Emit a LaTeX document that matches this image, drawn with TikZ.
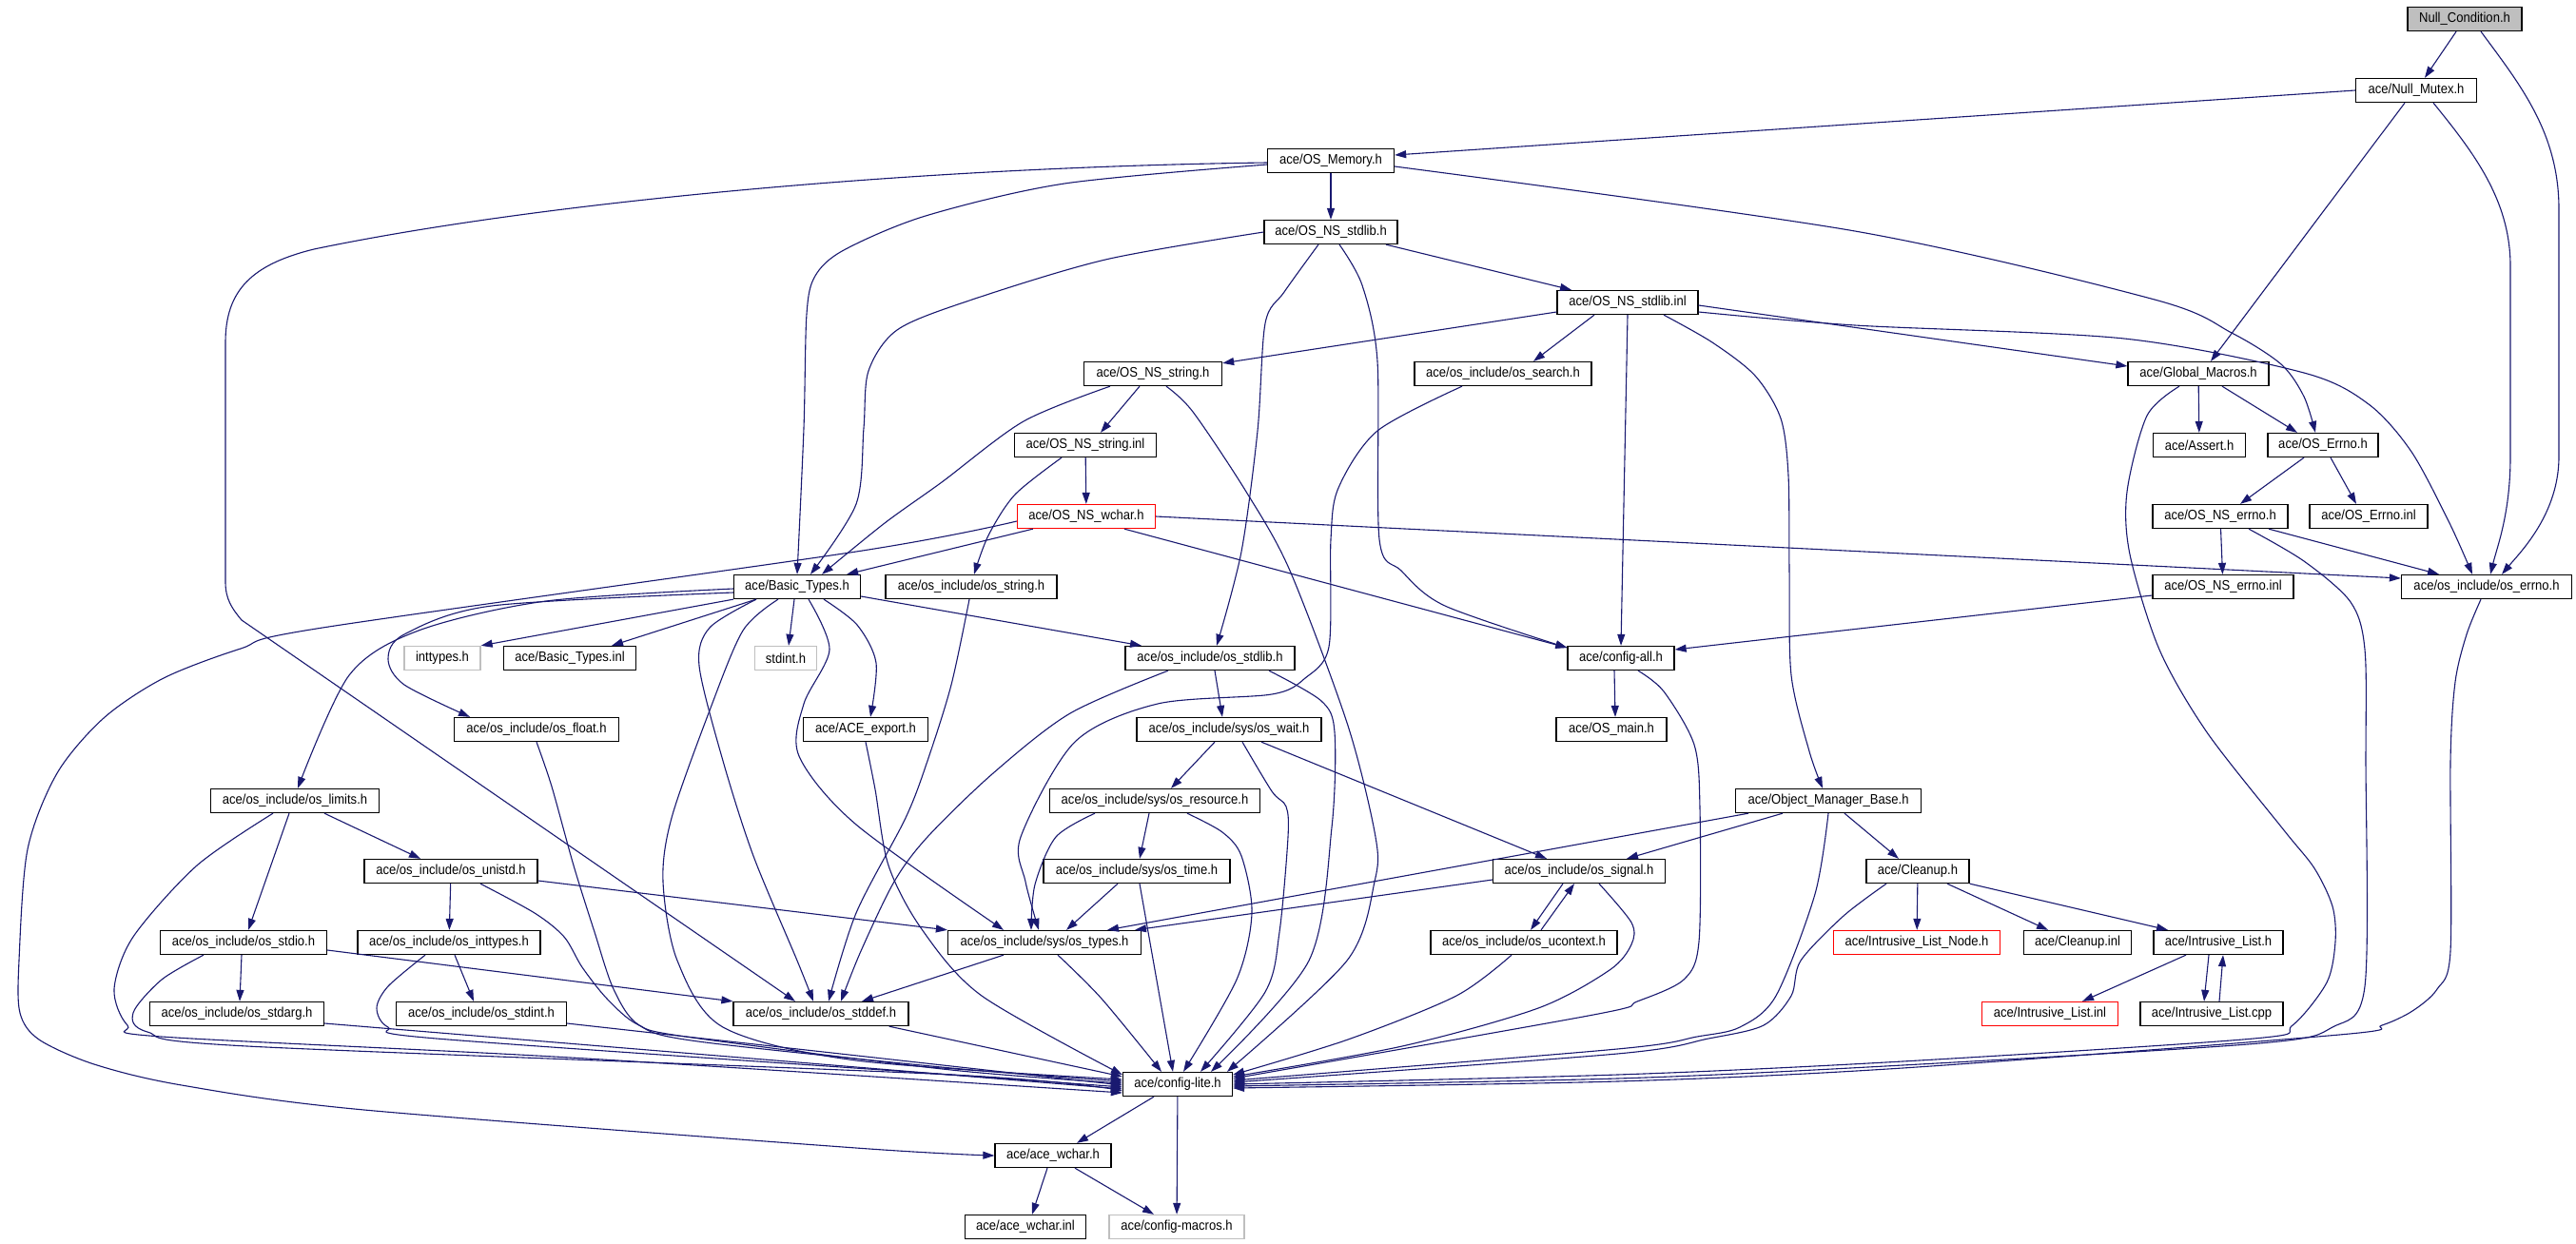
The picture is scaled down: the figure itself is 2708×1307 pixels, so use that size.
\documentclass[tikz,border=0pt]{standalone}
\usepackage{fontspec}
\setmainfont[FakeStretch=0.9]{Liberation Sans}
\usetikzlibrary{arrows.meta}
\definecolor{edgeblue}{HTML}{191970}
\definecolor{graybd}{HTML}{BFBFBF}
\tikzset{
  box/.style={draw=black, line width=1.3pt, fill=white, minimum height=25pt, inner sep=0pt, font=\fontsize{14.5}{16}\selectfont, text=black},
  redbox/.style={box, draw=red},
  graybox/.style={box, draw=graybd},
  e/.style={draw=edgeblue, line width=1.1pt, -{Triangle[length=12pt,width=8pt]}}
}
\begin{document}
\begin{tikzpicture}[x=1pt,y=-1pt]
\useasboundingbox (0,0) rectangle (2708,1307);
\fill[white] (0,0) rectangle (2708,1307);
% nodes
\node[box,fill=graybd,minimum width=120] (nc) at (2591,20) {Null\_Condition.h};
\node[box,minimum width=127] (nm) at (2540,95) {ace/Null\_Mutex.h};
\node[box,minimum width=133] (mem) at (1399,169) {ace/OS\_Memory.h};
\node[box,minimum width=140] (nsh) at (1399,244) {ace/OS\_NS\_stdlib.h};
\node[box,minimum width=148] (nsi) at (1711,318) {ace/OS\_NS\_stdlib.inl};
\node[box,minimum width=145] (strh) at (1212,393) {ace/OS\_NS\_string.h};
\node[box,minimum width=186] (search) at (1580,393) {ace/os\_include/os\_search.h};
\node[box,minimum width=148] (gm) at (2311,393) {ace/Global\_Macros.h};
\node[box,minimum width=149] (stri) at (1141,468) {ace/OS\_NS\_string.inl};
\node[box,minimum width=97] (assert) at (2312,468) {ace/Assert.h};
\node[box,minimum width=116] (errno) at (2442,468) {ace/OS\_Errno.h};
\node[redbox,minimum width=145] (wchar) at (1142,543) {ace/OS\_NS\_wchar.h};
\node[box,minimum width=142] (nseh) at (2334,543) {ace/OS\_NS\_errno.h};
\node[box,minimum width=124] (errinl) at (2490,543) {ace/OS\_Errno.inl};
\node[box,minimum width=133] (bt) at (838,617) {ace/Basic\_Types.h};
\node[box,minimum width=180] (osstr) at (1021,617) {ace/os\_include/os\_string.h};
\node[box,minimum width=148] (nsei) at (2337,617) {ace/OS\_NS\_errno.inl};
\node[box,minimum width=179] (oserr) at (2614,617) {ace/os\_include/os\_errno.h};
\node[graybox,minimum width=80] (inttypes) at (465,692) {inttypes.h};
\node[box,minimum width=139] (bti) at (599,692) {ace/Basic\_Types.inl};
\node[graybox,minimum width=65] (stdint) at (826,692) {stdint.h};
\node[box,minimum width=178] (osstdlib) at (1272,692) {ace/os\_include/os\_stdlib.h};
\node[box,minimum width=112] (cfgall) at (1704,692) {ace/config-all.h};
\node[box,minimum width=173] (float) at (564,767) {ace/os\_include/os\_float.h};
\node[box,minimum width=131] (export) at (910,767) {ace/ACE\_export.h};
\node[box,minimum width=194] (wait) at (1292,767) {ace/os\_include/sys/os\_wait.h};
\node[box,minimum width=116] (osmain) at (1694,767) {ace/OS\_main.h};
\node[box,minimum width=177] (limits) at (310,842) {ace/os\_include/os\_limits.h};
\node[box,minimum width=221] (res) at (1214,842) {ace/os\_include/sys/os\_resource.h};
\node[box,minimum width=195] (omb) at (1922,842) {ace/Object\_Manager\_Base.h};
\node[box,minimum width=182] (unistd) at (474,916) {ace/os\_include/os\_unistd.h};
\node[box,minimum width=196] (time) at (1195,916) {ace/os\_include/sys/os\_time.h};
\node[box,minimum width=181] (signal) at (1660,916) {ace/os\_include/os\_signal.h};
\node[box,minimum width=108] (cleanup) at (2016,916) {ace/Cleanup.h};
\node[box,minimum width=175] (stdio) at (256,991) {ace/os\_include/os\_stdio.h};
\node[box,minimum width=192] (inth) at (472,991) {ace/os\_include/os\_inttypes.h};
\node[box,minimum width=203] (types) at (1098,991) {ace/os\_include/sys/os\_types.h};
\node[box,minimum width=196] (uctx) at (1602,991) {ace/os\_include/os\_ucontext.h};
\node[redbox,minimum width=175] (iln) at (2015,991) {ace/Intrusive\_List\_Node.h};
\node[box,minimum width=113] (cli) at (2184,991) {ace/Cleanup.inl};
\node[box,minimum width=136] (ilh) at (2332,991) {ace/Intrusive\_List.h};
\node[box,minimum width=183] (stdarg) at (249,1066) {ace/os\_include/os\_stdarg.h};
\node[box,minimum width=179] (stdinth) at (506,1066) {ace/os\_include/os\_stdint.h};
\node[box,minimum width=184] (stddef) at (863,1066) {ace/os\_include/os\_stddef.h};
\node[redbox,minimum width=143] (ili) at (2155,1066) {ace/Intrusive\_List.inl};
\node[box,minimum width=150] (ilc) at (2325,1066) {ace/Intrusive\_List.cpp};
\node[box,minimum width=115] (lite) at (1238,1140) {ace/config-lite.h};
\node[box,minimum width=122] (aw) at (1107,1215) {ace/ace\_wchar.h};
\node[box,minimum width=127] (awi) at (1078,1290) {ace/ace\_wchar.inl};
\node[graybox,minimum width=142] (macros) at (1237,1290) {ace/config-macros.h};
% edges
\draw[e] (nc) -- (nm);
\draw[e] ([xshift=17pt]nc.south) .. controls (2650,90) and (2690,140) .. (2690,220) -- (2690,480) .. controls (2690,540) and (2650,580) .. ([xshift=16pt]oserr.north);
\draw[e] (nm.west) -- ([yshift=6pt]mem.east);
\draw[e] ([xshift=-12pt]nm.south) -- ([xshift=13pt]gm.north);
\draw[e] ([xshift=18pt]nm.south) .. controls (2600,160) and (2639,210) .. (2639,280) -- (2639,480) .. controls (2639,540) and (2625,575) .. ([xshift=4pt]oserr.north);
\draw[e] (mem) -- (nsh);
\draw[e] plot[smooth] coordinates {([yshift=-4pt]mem.west) (1119,193) (973,227) (887,263) (857,290) (848,330) (845,450) (bt.north)};
\draw[e] plot[smooth] coordinates {([yshift=-6pt]mem.east) (1950,243) (2265,315) (2346,350) (2398,383) (2422,417) ([xshift=-8pt]errno.north)};
\draw[e] ([yshift=-2pt]mem.west) .. controls (950,176) and (560,214) .. (330,262) .. controls (265,278) and (237,305) .. (237,360) -- (237,612) .. controls (237,630) and (244,640) .. (254,652) -- ([xshift=-27pt]stddef.north);
\draw[e] ([xshift=58pt]nsh.south) -- ([xshift=-59pt]nsi.north);
\draw[e] plot[smooth] coordinates {(nsh.west) (1162,273) (1016,317) (943,347) (913,390) (908,450) (900,530) ([xshift=14pt]bt.north)};
\draw[e] plot[smooth] coordinates {([xshift=-13pt]nsh.south) (1350,307) (1330,340) (1322,453) (1305,580) ([xshift=7pt]osstdlib.north)};
\draw[e] plot[smooth] coordinates {([xshift=9pt]nsh.south) (1432,300) (1448,380) (1450,567) (1473,600) (1519,637) ([yshift=11pt]cfgall.west)};
\draw[e] ([yshift=-10pt]nsi.west) -- ([yshift=-2pt]strh.north east);
\draw[e] ([xshift=-35pt]nsi.south) -- ([xshift=32pt]search.north);
\draw[e] (nsi.south) -- (cfgall.north);
\draw[e] ([yshift=-3pt]nsi.east) -- ([yshift=8pt]gm.west);
\draw[e] plot[smooth] coordinates {([yshift=-10pt]nsi.east) (1950,342) (2233,356) (2422,392) (2490,425) (2535,475) (2575,550) ([xshift=-15pt]oserr.north)};
\draw[e] plot[smooth] coordinates {([xshift=38pt]nsi.south) (1800,360) (1845,395) (1872,440) (1880,500) (1881,600) (1883,710) (1902,790) ([xshift=-6pt]omb.north)};
\draw[e] ([xshift=-14pt]strh.south) -- ([xshift=16pt]stri.north);
\draw[e] plot[smooth] coordinates {([xshift=-45pt]strh.south) (1076,443) (990,507) (930,550) ([xshift=26pt]bt.north)};
\draw[e] plot[smooth] coordinates {([xshift=14pt]strh.south) (1254,433) (1310,517) (1356,600) (1417,763) (1446,880) (1445,927) (1416,1010) ([xshift=52pt]lite.north)};
\draw[e] (stri) -- (wchar);
\draw[e] plot[smooth] coordinates {([xshift=-25pt]stri.south) (1067,520) (1039,563) ([xshift=3pt]osstr.north)};
\draw[e] ([xshift=17pt]wchar.south west) -- ([xshift=-15pt]bt.north east);
\draw[e] plot[smooth] coordinates {([yshift=-5pt]wchar.west) (900,580) (339,660) (253,682) (172,713) (109,755) (60,813) (29,893) (20,1010) (21,1065) (41,1093) (99,1119) (191,1141) (383,1167) (900,1207) (aw.west)};
\draw[e] ([xshift=40pt]wchar.south) -- ([yshift=11pt]cfgall.west);
\draw[e] (wchar.east) -- ([yshift=9pt]oserr.west);
\draw[e] plot[smooth] coordinates {([xshift=-2pt]osstr.south) (1000,720) (975,800) (952,860) (900,960) ([xshift=8pt]stddef.north)};
\draw[e] (bt.south west) -- (inttypes.north east);
\draw[e] ([xshift=24pt]bt.south west) -- ([xshift=44pt]bti.north);
\draw[e] ([xshift=-3pt]bt.south) -- ([xshift=3pt]stdint.north);
\draw[e] plot[smooth] coordinates {([yshift=-6pt]bt.west) (517,637) (425,667) (408,693) (425,720) ([xshift=-70pt]float.north)};
\draw[e] plot[smooth] coordinates {([yshift=-2pt]bt.west) (574,632) (440,663) (367,710) ([xshift=3pt]limits.north)};
\draw[e] ([yshift=-10pt]bt.east) -- ([xshift=-72pt]osstdlib.north);
\draw[e] plot[smooth] coordinates {([xshift=28pt]bt.south) (901,657) (921,697) ([xshift=5pt]export.north)};
\draw[e] plot[smooth] coordinates {([xshift=12pt]bt.south) (872,683) (845,740) (840,795) (900,867) ([xshift=-43pt]types.north)};
\draw[e] plot[smooth] coordinates {([xshift=-43pt]bt.south) (746,660) (735,700) (760,800) (792,900) (838,1010) ([xshift=-8pt]stddef.north)};
\draw[e] plot[smooth] coordinates {([xshift=-20pt]bt.south) (781,663) (746,747) (706,860) (697,927) (712,1010) (760,1080) (900,1115) ([yshift=5pt]lite.west)};
\draw[e] plot[smooth] coordinates {(float.south) (580,827) (603,910) (625,980) (645,1040) (672,1078) (734,1095) (1000,1123) ([yshift=3pt]lite.west)};
\draw[e] plot[smooth] coordinates {(export.south) (920,830) (934,910) (969,977) (1032,1047) ([yshift=10pt]lite.west)};
\draw[e] ([xshift=31pt]limits.south) -- ([xshift=-32pt]unistd.north);
\draw[e] ([xshift=-6pt]limits.south) -- ([xshift=5pt]stdio.north);
\draw[e] plot[smooth] coordinates {([xshift=-23pt]limits.south) (207,910) (140,985) (120,1040) (134,1078) (170,1090) (600,1112) ([yshift=-9pt]lite.west)};
\draw[e] (unistd) -- (inth);
\draw[e] ([yshift=-10pt]unistd.east) -- (types.north west);
\draw[e] plot[smooth] coordinates {([xshift=31pt]unistd.south) (562,960) (593,985) (612,1017) (638,1050) (670,1077) (721,1090) (1000,1125) ([yshift=1pt]lite.west)};
\draw[e] ([xshift=-2pt]stdio.south) -- ([xshift=3pt]stdarg.north);
\draw[e] ([yshift=-8pt]stdio.east) -- (stddef.north west);
\draw[e] plot[smooth] coordinates {([xshift=-42pt]stdio.south) (170,1030) (140,1065) (155,1085) (260,1100) (1000,1130) ([yshift=-7pt]lite.west)};
\draw[e] ([xshift=6pt]inth.south) -- ([xshift=-8pt]stdinth.north);
\draw[e] plot[smooth] coordinates {([xshift=-25pt]inth.south) (408,1037) (396,1060) (408,1080) (459,1092) (1000,1130) ([yshift=-3pt]lite.west)};
\draw[e] ([yshift=-10pt]stdarg.east) -- ([yshift=-5pt]lite.west);
\draw[e] ([yshift=-10pt]stdinth.east) -- ([yshift=-1pt]lite.west);
\draw[e] ([xshift=-21pt]stddef.south east) -- ([yshift=8pt]lite.west);
\draw[e] ([xshift=-43pt]types.south) -- ([xshift=43pt]stddef.north);
\draw[e] plot[smooth] coordinates {([xshift=14pt]types.south) (1158,1050) ([xshift=-17pt]lite.north)};
\draw[e] plot[smooth] coordinates {([xshift=-44pt]osstdlib.south) (1125,750) (1044,813) (975,880) (940,927) (905,1000) ([xshift=21pt]stddef.north)};
\draw[e] ([xshift=5pt]osstdlib.south) -- ([xshift=-7pt]wait.north);
\draw[e] plot[smooth] coordinates {([xshift=62pt]osstdlib.south) (1389,737) (1403,770) (1400,870) (1376,1010) ([xshift=35pt]lite.north)};
\draw[e] ([xshift=-15pt]wait.south) -- ([xshift=17pt]res.north);
\draw[e] plot[smooth] coordinates {([xshift=14pt]wait.south) (1337,832) (1352,848) (1354,880) (1345,980) (1330,1043) ([xshift=24pt]lite.north)};
\draw[e] ([xshift=34pt]wait.south) -- ([xshift=-34pt]signal.north);
\draw[e] ([xshift=-6pt]res.south) -- ([xshift=3pt]time.north);
\draw[e] plot[smooth] coordinates {([xshift=-63pt]res.south) (1110,880) (1088,930) ([xshift=-14pt]types.north)};
\draw[e] plot[smooth] coordinates {([xshift=34pt]res.south) (1285,875) (1305,900) (1316,960) (1300,1030) ([xshift=6pt]lite.north)};
\draw[e] ([xshift=-20pt]time.south) -- ([xshift=23pt]types.north);
\draw[e] ([xshift=3pt]time.south) -- ([xshift=-5pt]lite.north);
\draw[e] plot[smooth] coordinates {([xshift=-43pt]search.south) (1448,453) (1407,513) (1399,567) (1397,680) (1372,713) (1337,730) (1217,740) (1130,780) (1073,880) (1078,927) ([xshift=-6pt]types.north)};
\draw[e] (gm) -- (assert);
\draw[e] ([xshift=25pt]gm.south) -- ([xshift=-27pt]errno.north);
\draw[e] plot[smooth] coordinates {([xshift=-20pt]gm.south) (2257,437) (2236,517) (2239,583) (2270,683) (2320,770) (2401,873) (2433,913) (2452,953) (2455,990) (2446,1033) (2410,1078) (2369,1092) (2000,1116) (1700,1130) (lite.east)};
\draw[e] ([xshift=-20pt]errno.south) -- ([xshift=21pt]nseh.north);
\draw[e] ([xshift=8pt]errno.south) -- ([xshift=-13pt]errinl.north);
\draw[e] (nseh) -- (nsei);
\draw[e] ([xshift=51pt]nseh.south) -- ([xshift=-50pt]oserr.north);
\draw[e] plot[smooth] coordinates {([xshift=30pt]nseh.south) (2422,590) (2471,633) (2486,683) (2487,800) (2486,1037) (2452,1080) (2375,1097) (2000,1120) (1700,1134) ([yshift=-2pt]lite.east)};
\draw[e] ([yshift=-9pt]nsei.west) -- ([yshift=9pt]cfgall.east);
\draw[e] plot[smooth] coordinates {([xshift=-6pt]oserr.south) (2593,667) (2581,717) (2576,800) (2576,1000) (2562,1040) (2536,1063) (2504,1078) (2459,1088) (2000,1123) (1700,1137) ([yshift=-4pt]lite.east)};
\draw[e] ([xshift=-7pt]cfgall.south) -- ([xshift=4pt]osmain.north);
\draw[e] plot[smooth] coordinates {([xshift=18pt]cfgall.south) (1749,727) (1781,783) (1787,850) (1786,990) (1770,1030) (1721,1053) (1675,1067) ([yshift=6pt]lite.east)};
\draw[e] ([xshift=-84pt]omb.south) -- ([xshift=66pt]types.north);
\draw[e] ([xshift=-48pt]omb.south) -- ([xshift=50pt]signal.north);
\draw[e] plot[smooth] coordinates {(omb.south) (1908,940) (1867,1047) (1829,1080) (1784,1090) (1700,1103) ([yshift=4pt]lite.east)};
\draw[e] ([xshift=17pt]omb.south) -- ([xshift=-20pt]cleanup.north);
\draw[e] (cleanup) -- (iln);
\draw[e] ([xshift=31pt]cleanup.south) -- ([xshift=-31pt]cli.north);
\draw[e] (cleanup.south east) -- ([xshift=-53pt]ilh.north);
\draw[e] plot[smooth] coordinates {([xshift=-33pt]cleanup.south) (1938,963) (1893,1010) (1883,1047) (1854,1078) (1796,1092) (1700,1108) ([yshift=2pt]lite.east)};
\draw[e] ([xshift=-34pt]ilh.south) -- ([xshift=34pt]ili.north);
\draw[e] ([xshift=-10pt]ilh.south) -- ([xshift=-8pt]ilc.north);
\draw[e] ([xshift=8pt]ilc.north) -- ([xshift=5pt]ilh.south);
\draw[e] ([yshift=-9pt]signal.west) -- ([xshift=95pt]types.north);
\draw[e] ([xshift=-17pt]signal.south) -- ([xshift=7pt]uctx.north);
\draw[e] ([xshift=18pt]uctx.north) -- ([xshift=-5pt]signal.south);
\draw[e] plot[smooth] coordinates {([xshift=21pt]signal.south) (1715,970) (1715,993) (1692,1020) (1617,1060) (1474,1100) ([yshift=8pt]lite.east)};
\draw[e] plot[smooth] coordinates {([xshift=-13pt]uctx.south) (1531,1047) (1417,1093) ([yshift=10pt]lite.east)};
\draw[e] ([xshift=-25pt]lite.south) -- ([xshift=25pt]aw.north);
\draw[e] (lite) -- (macros);
\draw[e] ([xshift=-6pt]aw.south) -- ([xshift=7pt]awi.north);
\draw[e] ([xshift=23pt]aw.south) -- ([xshift=-24pt]macros.north);
\end{tikzpicture}
\end{document}
